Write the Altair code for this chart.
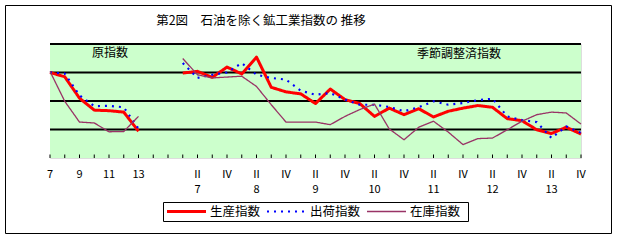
import altair as alt
import pandas as pd

FONT = "Noto Sans CJK JP"

# ---- data -------------------------------------------------------------
SERIES = ["生産指数", "出荷指数", "在庫指数"]
COLORS = ["#FF0000", "#0000FF", "#993366"]
DASHES = [[1, 0], [2, 5], [1, 0]]
WIDTHS = [3, 1.3, 1]

ANNUAL_POS = [0, 1, 2, 3, 4, 5, 6]            # 平成7年 .. 13年 (原指数)
QUARTER_POS = list(range(9, 37))              # 7年Ⅰ期 .. 13年Ⅳ期 (季節調整済)

prod_annual = [100.0, 98.5, 91.0, 86.8, 86.6, 86.1, 79.4]
ship_annual = [100.0, 99.6, 92.0, 88.2, 88.3, 87.8, 80.3]
inv_annual = [100.4, 89.9, 82.6, 82.3, 79.2, 79.3, 84.6]

prod_q = [99.8, 100.4, 98.3, 101.9, 99.5, 105.4, 94.8, 93.2, 92.5, 89.1,
          94.2, 90.5, 89.1, 84.6, 87.5, 85.2, 87.3, 84.4, 86.4, 87.5,
          88.4, 87.8, 83.8, 83.1, 79.9, 78.6, 80.8, 78.4]
ship_q = [103.3, 98.1, 99.2, 100.0, 103.3, 99.2, 98.1, 97.5, 93.6, 92.2,
          92.8, 90.5, 88.7, 88.7, 87.9, 86.4, 87.8, 89.9, 88.7, 89.3,
          90.3, 90.8, 84.6, 83.3, 82.6, 77.0, 81.1, 78.8]
inv_q = [104.9, 99.2, 98.1, 98.4, 98.7, 95.1, 88.7, 82.6, 82.6, 82.6,
         81.7, 84.6, 87.0, 88.9, 80.2, 76.4, 80.8, 82.9, 79.1, 74.7,
         76.8, 77.0, 79.9, 82.9, 85.2, 86.1, 85.8, 81.9]

TOP_LABEL_POS = [0, 2, 4, 6, 10, 12, 14, 16, 18, 20, 22, 24, 26, 28, 30, 32, 34, 36]
TOP_LABEL_TEXT = ["7", "9", "11", "13", "Ⅱ", "Ⅳ", "Ⅱ", "Ⅳ", "Ⅱ", "Ⅳ", "Ⅱ", "Ⅳ",
                  "Ⅱ", "Ⅳ", "Ⅱ", "Ⅳ", "Ⅱ", "Ⅳ"]
YEAR_LABEL_POS = [10, 14, 18, 22, 26, 30, 34]
YEAR_LABEL_TEXT = ["7", "8", "9", "10", "11", "12", "13"]
TICK_POS = list(range(0, 37))
GRID_VALUES = [80, 90, 100, 110]
Y_TICKS = [70, 80, 90, 100, 110]
X_DOMAIN = [0, 36]
Y_DOMAIN = [70, 110]

TITLE = "第2図　石油を除く鉱工業指数の 推移"
PANEL_LEFT = "原指数"
PANEL_RIGHT = "季節調整済指数"

# ---- tables -----------------------------------------------------------
rows = []
for name, a, q in zip(SERIES, [prod_annual, ship_annual, inv_annual],
                      [prod_q, ship_q, inv_q]):
    for p, v in zip(ANNUAL_POS, a):
        rows.append({"series": name, "seg": "annual", "pos": p, "value": v})
    for p, v in zip(QUARTER_POS, q):
        rows.append({"series": name, "seg": "quarter", "pos": p, "value": v})
df = pd.DataFrame(rows)

top_lab = pd.DataFrame({"pos": TOP_LABEL_POS, "text": TOP_LABEL_TEXT})
year_lab = pd.DataFrame({"pos": YEAR_LABEL_POS, "text": YEAR_LABEL_TEXT})
ticks = pd.DataFrame({"pos": TICK_POS})
grid = pd.DataFrame({"value": GRID_VALUES})
bg = pd.DataFrame({"x0": [X_DOMAIN[0]], "x1": [X_DOMAIN[1]],
                   "y0": [Y_DOMAIN[0]], "y1": [Y_DOMAIN[1]]})
leg = pd.DataFrame({"series": SERIES, "idx": list(range(len(SERIES)))})

W, H = 531, 114
xscale = alt.Scale(domain=X_DOMAIN, nice=False, zero=False)
yscale = alt.Scale(domain=Y_DOMAIN, nice=False, zero=False)
cscale = alt.Scale(domain=SERIES, range=COLORS)
dscale = alt.Scale(domain=SERIES, range=DASHES)
wscale = alt.Scale(domain=SERIES, range=WIDTHS)

frame = alt.Chart(pd.DataFrame({"a": [0]})).mark_rect(
    fillOpacity=0, stroke="black", strokeWidth=1
).encode(x=alt.value(-44.5), x2=alt.value(561.5), y=alt.value(-38.5), y2=alt.value(189.5))

bg_layer = alt.Chart(bg).mark_rect(color="#CCFFCC").encode(
    x=alt.X("x0:Q", scale=xscale, axis=None), x2="x1:Q",
    y=alt.Y("y0:Q", scale=yscale, axis=None), y2="y1:Q",
)

grid_layer = alt.Chart(grid).mark_rule(color="black", strokeWidth=2).encode(
    y=alt.Y("value:Q", scale=yscale, axis=None)
)

tick_layer = alt.Chart(ticks).mark_rule(color="black", strokeWidth=1).encode(
    x=alt.X("pos:Q", scale=xscale, axis=None),
    y=alt.value(H - 3.5), y2=alt.value(H),
)

lines = alt.Chart(df).mark_line(strokeJoin="round").encode(
    x=alt.X("pos:Q", scale=xscale,
            axis=alt.Axis(labels=False, ticks=False, grid=False, title=None,
                          domainColor="black", domainWidth=1)),
    y=alt.Y("value:Q", scale=yscale,
            axis=alt.Axis(values=Y_TICKS, ticks=False, grid=False, title=None,
                          domainColor="black", domainWidth=1, labelPadding=12,
                          labelFontSize=11, labelFont=FONT, labelColor="black")),
    color=alt.Color("series:N", scale=cscale, legend=None),
    strokeDash=alt.StrokeDash("series:N", scale=dscale, legend=None),
    strokeWidth=alt.StrokeWidth("series:N", scale=wscale, legend=None),
    detail="seg:N",
    order=alt.Order("pos:Q"),
)

top_text = alt.Chart(top_lab).mark_text(font=FONT, fontSize=11, baseline="middle",
                                        color="black").encode(
    x=alt.X("pos:Q", scale=xscale, axis=None), y=alt.value(H + 17), text="text:N"
)
year_text = alt.Chart(year_lab).mark_text(font=FONT, fontSize=11, baseline="middle",
                                          color="black").encode(
    x=alt.X("pos:Q", scale=xscale, axis=None), y=alt.value(H + 32), text="text:N"
)

# ---- legend (drawn box) ----------------------------------------------
LEG_X0, LEG_STEP, LEG_SYM, LEG_Y = 117, 100, 39, 167.5
leg_box = alt.Chart(pd.DataFrame({"a": [0]})).mark_rect(
    fill="white", stroke="black", strokeWidth=1
).encode(x=alt.value(113.5), x2=alt.value(418.5), y=alt.value(158.5), y2=alt.value(177.5))

leg_base = alt.Chart(leg).transform_calculate(
    lx0=f"{LEG_X0} + datum.idx * {LEG_STEP}",
    lx1=f"{LEG_X0} + datum.idx * {LEG_STEP} + {LEG_SYM}",
    tx=f"{LEG_X0} + datum.idx * {LEG_STEP} + {LEG_SYM + 4}",
)
leg_lines = leg_base.mark_rule().encode(
    x=alt.X("lx0:Q", scale=None, axis=None), x2="lx1:Q", y=alt.value(LEG_Y),
    color=alt.Color("series:N", scale=cscale, legend=None),
    strokeDash=alt.StrokeDash("series:N", scale=dscale, legend=None),
    strokeWidth=alt.StrokeWidth("series:N", scale=wscale, legend=None),
)
leg_text = leg_base.mark_text(font=FONT, fontSize=12.5, align="left", baseline="middle",
                              color="black").encode(
    x=alt.X("tx:Q", scale=None, axis=None), y=alt.value(LEG_Y), text="series:N"
)


def label(txt, x, y, size=12):
    return alt.Chart(pd.DataFrame({"t": [txt]})).mark_text(
        font=FONT, fontSize=size, baseline="middle", color="black"
    ).encode(x=alt.value(x), y=alt.value(y), text="t:N")


chart = alt.layer(
    frame, bg_layer, grid_layer, tick_layer, lines, top_text, year_text,
    leg_box, leg_lines, leg_text,
    label(TITLE, 211, -23, 12.5), label(PANEL_LEFT, 60, 9), label(PANEL_RIGHT, 409, 10),
).properties(
    width=W, height=H,
    padding={"left": 50, "top": 44, "right": 39, "bottom": 82},
    autosize=alt.AutoSizeParams(type="none"),
).configure_view(strokeWidth=0).configure(background="white")

chart.save("out.html", embed_options={"renderer": "svg", "actions": False})
